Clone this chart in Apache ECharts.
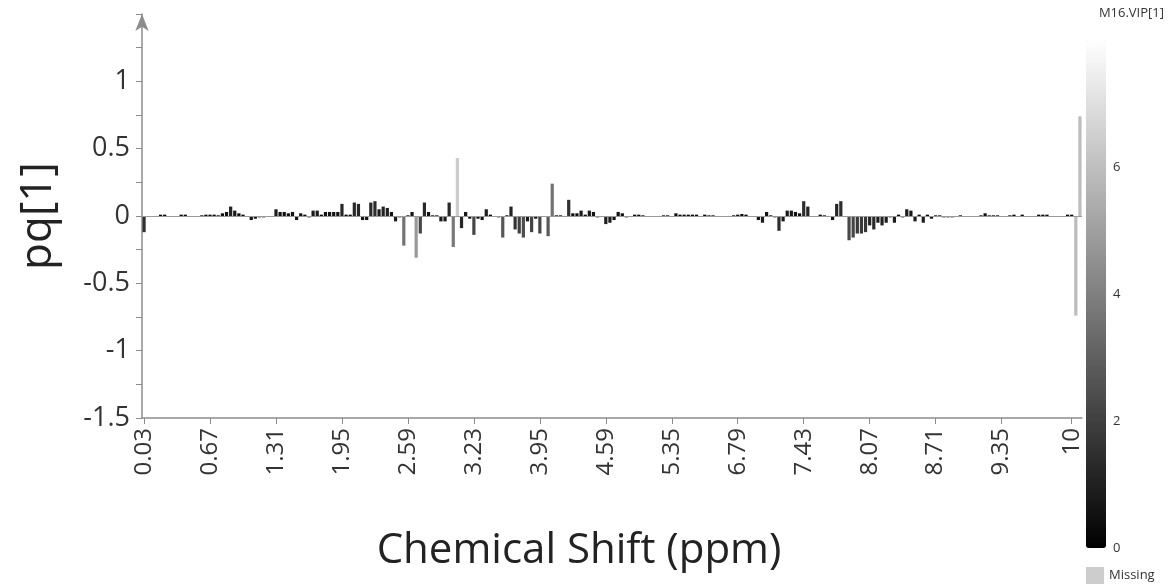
<!DOCTYPE html>
<html>
<head>
<meta charset="utf-8">
<script src="https://cdn.jsdelivr.net/npm/echarts@6/dist/echarts.min.js"></script>
<style>
  html, body { margin: 0; padding: 0; background: #fff; }
  #chart { width: 1172px; height: 588px; }
</style>
</head>
<body>
<div id="chart"></div>
<script>
// bins (ppm), only some of them get a label on the axis
const categories = [
  "0.03","0.07","0.11","0.15","0.19","0.23","0.27","0.31","0.35","0.39","0.43","0.47","0.51","0.55","0.59","0.63",
  "0.67","0.71","0.75","0.79","0.83","0.87","0.91","0.95","0.99","1.03","1.07","1.11","1.15","1.19","1.23","1.27",
  "1.31","1.35","1.39","1.43","1.47","1.51","1.55","1.59","1.63","1.67","1.71","1.75","1.79","1.83","1.87","1.91",
  "1.95","1.99","2.03","2.07","2.11","2.15","2.19","2.23","2.27","2.31","2.35","2.39","2.43","2.47","2.51","2.55",
  "2.59","2.63","2.67","2.71","2.75","2.79","2.83","2.87","2.91","2.95","2.99","3.03","3.07","3.11","3.15","3.19",
  "3.23","3.27","3.32","3.36","3.41","3.45","3.50","3.54","3.59","3.63","3.68","3.72","3.77","3.81","3.86","3.90",
  "3.95","3.99","4.03","4.07","4.11","4.15","4.19","4.23","4.27","4.31","4.35","4.39","4.43","4.47","4.51","4.55",
  "4.59","4.63","4.67","4.71","4.75","4.91","4.95","4.99","5.03","5.07","5.11","5.15","5.19","5.23","5.27","5.31",
  "5.35","5.39","5.43","5.47","5.51","5.55","6.39","6.43","6.47","6.51","6.55","6.59","6.63","6.67","6.71","6.75",
  "6.79","6.83","6.87","6.91","6.95","6.99","7.03","7.07","7.11","7.15","7.19","7.23","7.27","7.31","7.35","7.39",
  "7.43","7.47","7.51","7.55","7.59","7.63","7.67","7.71","7.75","7.79","7.83","7.87","7.91","7.95","7.99","8.03",
  "8.07","8.11","8.15","8.19","8.23","8.27","8.31","8.35","8.39","8.43","8.47","8.51","8.55","8.59","8.63","8.67",
  "8.71","8.75","8.79","8.83","8.87","8.91","8.95","8.99","9.03","9.07","9.11","9.15","9.19","9.23","9.27","9.31",
  "9.35","9.39","9.43","9.47","9.51","9.55","9.59","9.63","9.67","9.71","9.75","9.79","9.83","9.87","9.91","9.95",
  "9.97","10","10.02","10.04"
];

// loading pq[1]
const pq = [
  -0.12,-0.005,0,0,0.01,0.01,0,0,0,0.01,0.01,0,0,0,0.005,0.01,
  0.01,0.01,0.005,0.02,0.03,0.07,0.04,0.02,0.01,-0.005,-0.03,-0.02,-0.01,-0.01,-0.005,0,
  0.05,0.03,0.03,0.02,0.03,-0.03,0.02,0.01,-0.01,0.04,0.04,0.01,0.03,0.03,0.03,0.03,
  0.09,0.01,0.01,0.10,0.09,-0.03,-0.03,0.10,0.11,0.05,0.07,0.06,0.03,-0.04,-0.01,-0.22,
  0.005,0.03,-0.31,-0.13,0.10,0.03,0.005,0.005,-0.04,-0.04,0.10,-0.23,0.43,-0.09,0.03,-0.02,
  -0.14,-0.02,-0.03,0.05,0.01,0,-0.01,-0.16,0.005,0.07,-0.10,-0.13,-0.16,-0.04,-0.12,-0.02,
  -0.13,0,-0.15,0.24,0.005,0.005,0,0.12,0.02,0.02,0.04,0.01,0.04,0.03,-0.01,-0.005,
  -0.06,-0.05,-0.03,0.03,0.02,-0.01,-0.005,0.01,0.01,0.005,0,0,0,0,0.005,0.005,
  0,0.02,0.01,0.01,0.01,0.01,0.01,0,0.01,0.005,0.005,0,0,0,0,0.005,
  0.01,0.015,0.01,0,0,-0.03,-0.05,0.03,0.005,-0.01,-0.11,-0.04,0.04,0.04,0.03,0.02,
  0.11,0.07,0,0,0.01,0.005,0,-0.03,0.09,0.11,0,-0.18,-0.16,-0.13,-0.13,-0.12,
  -0.07,-0.10,-0.05,-0.07,-0.05,-0.01,-0.05,0.01,-0.01,0.05,0.04,-0.04,0.01,-0.05,0.01,-0.02,
  0.005,0.005,-0.01,-0.01,-0.01,0,0.005,0,0,-0.005,0,0.005,0.02,0.005,0.005,0.005,
  0,0,0.005,0.01,0,0.01,0,0,0,0.01,0.01,0.01,0,0,0,0,
  0.01,0.01,-0.74,0.74
];

// M16.VIP[1], drives the grey level of each bar
const vip = [
  1.5,0.2,0.1,0.1,0.3,0.3,0.1,0.1,0.1,0.3,0.3,0.1,0.1,0.1,0.2,0.3,
  0.3,0.3,0.2,0.5,0.6,1.1,0.8,0.5,0.3,0.2,0.6,0.5,0.3,0.3,0.2,0.1,
  0.9,0.6,0.6,0.5,0.6,0.6,0.5,0.3,0.3,0.8,0.8,0.3,0.6,0.6,0.6,0.6,
  1.2,0.3,0.3,1.3,1.2,0.6,0.6,1.3,1.4,0.9,1.1,1.0,0.6,0.8,0.3,3.6,
  0.2,0.6,4.8,2.2,1.3,0.6,0.2,0.2,0.8,0.8,1.3,3.8,6.4,1.2,0.6,0.5,
  2.2,0.5,0.6,0.9,0.3,0.1,0.3,2.7,0.2,1.1,1.6,2.0,2.4,0.8,2.1,0.5,
  2.2,0.1,2.8,3.6,0.2,0.2,0.1,1.5,0.5,0.5,0.8,0.3,0.8,0.6,0.3,0.2,
  1.0,0.9,0.6,0.6,0.5,0.3,0.2,0.3,0.3,0.2,0.1,0.1,0.1,0.1,0.2,0.2,
  0.1,0.5,0.3,0.3,0.3,0.3,0.3,0.1,0.3,0.2,0.2,0.1,0.1,0.1,0.1,0.2,
  0.3,0.4,0.3,0.1,0.1,0.6,0.9,0.6,0.2,0.3,1.4,0.8,0.8,0.8,0.6,0.5,
  1.4,1.1,0.1,0.1,0.3,0.2,0.1,0.6,1.2,1.4,0.1,2.3,2.2,1.8,1.8,1.7,
  1.1,1.3,0.9,1.1,0.9,0.3,0.9,0.3,0.3,0.9,0.8,0.8,0.3,0.9,0.3,0.5,
  0.2,0.2,0.3,0.3,0.3,0.1,0.2,0.1,0.1,0.2,0.1,0.2,0.5,0.2,0.2,0.2,
  0.1,0.1,0.2,0.3,0.1,0.3,0.1,0.1,0.1,0.3,0.3,0.3,0.1,0.1,0.1,0.1,
  0.3,0.3,5.9,5.9
];

const xTickLabels = ["0.03","0.67","1.31","1.95","2.59","3.23","3.95","4.59","5.35","6.79","7.43","8.07","8.71","9.35","10"];
const yTickLabels = ["-1.5","-1","-0.5","0","0.5","1"];
const vipTickLabels = ["0","2","4","6"];

const font = "'Open Sans', 'Noto Sans', sans-serif";
const axisGrey = "#8c8c8c";

const chart = echarts.init(document.getElementById("chart"), null, { renderer: "canvas" });

const showLabel = (idx, val) => xTickLabels.includes(val);

const option = {
  animation: false,
  textStyle: { fontFamily: font },
  title: {
    text: "M16.VIP[1]",
    right: 3,
    top: 2,
    textStyle: { fontSize: 13, fontWeight: "normal", color: "#333", fontFamily: font }
  },
  legend: {
    left: 1086,
    top: 567,
    padding: 0,
    itemWidth: 18,
    itemHeight: 17,
    icon: "rect",
    data: ["Missing"],
    textStyle: { fontSize: 13, color: "#333", fontFamily: font }
  },
  grid: [
    { left: 142, right: 90, top: 14, bottom: 170 },
    { left: 1086, top: 40, width: 20, height: 508 }
  ],
  xAxis: [
    {
      type: "category",
      data: categories,
      position: "bottom",
      name: "Chemical Shift (ppm)",
      nameLocation: "middle",
      nameGap: 112,
      nameTextStyle: { fontSize: 42, color: "#222", fontFamily: font, padding: [0, 66, 0, 0] },
      axisLine: { onZero: false, lineStyle: { color: axisGrey, width: 1.5 } },
      axisTick: { show: true, interval: showLabel, alignWithLabel: true, length: 6, lineStyle: { color: axisGrey } },
      axisLabel: {
        interval: showLabel,
        rotate: 90,
        fontSize: 24,
        color: "#333",
        margin: 10,
        fontFamily: font
      },
      splitLine: { show: false }
    },
    { type: "category", gridIndex: 1, data: [""], show: false }
  ],
  yAxis: [
    {
      type: "value",
      min: -1.5,
      max: 1.5,
      interval: 0.25,
      name: "pq[1]",
      nameLocation: "middle",
      nameGap: 82,
      nameTextStyle: { fontSize: 44, color: "#222", fontFamily: font },
      axisLine: {
        show: true,
        symbol: ["none", "arrow"],
        symbolSize: [10, 17],
        lineStyle: { color: axisGrey, width: 1.5 }
      },
      axisTick: { show: true, length: 6, lineStyle: { color: axisGrey } },
      axisLabel: {
        fontSize: 27,
        color: "#333",
        margin: 12,
        fontFamily: font,
        formatter: v => {
          const s = String(Math.round(v * 100) / 100);
          return yTickLabels.includes(s) ? s : "";
        }
      },
      splitLine: { show: false }
    },
    {
      type: "value",
      gridIndex: 1,
      position: "right",
      min: 0,
      max: 8,
      interval: 2,
      axisLine: { show: false },
      axisTick: { show: false },
      splitLine: { show: false },
      axisLabel: {
        fontSize: 13,
        color: "#333",
        margin: 7,
        fontFamily: font,
        formatter: v => (vipTickLabels.includes(String(v)) ? String(v) : "")
      }
    }
  ],
  visualMap: {
    type: "continuous",
    seriesIndex: 0,
    dimension: 2,
    min: 0,
    max: 8,
    left: 1086,
    top: 40,
    padding: 0,
    itemWidth: 20,
    itemHeight: 508,
    calculable: false,
    orient: "vertical",
    inRange: { color: ["#000000", "#ffffff"] }
  },
  series: [
    {
      type: "bar",
      name: "pq[1]",
      barCategoryGap: "22%",
      data: pq.map((v, i) => [categories[i], v, vip[i]]),
      encode: { x: 0, y: 1 },
      markLine: {
        silent: true,
        symbol: "none",
        label: { show: false },
        lineStyle: { color: "#9a9a9a", width: 1, type: "solid" },
        data: [{ yAxis: 0 }]
      }
    },
    {
      type: "scatter",
      name: "Missing",
      xAxisIndex: 1,
      yAxisIndex: 1,
      data: [],
      itemStyle: { color: "#c0c0c0" }
    }
  ]
};

chart.setOption(option);
</script>
</body>
</html>
